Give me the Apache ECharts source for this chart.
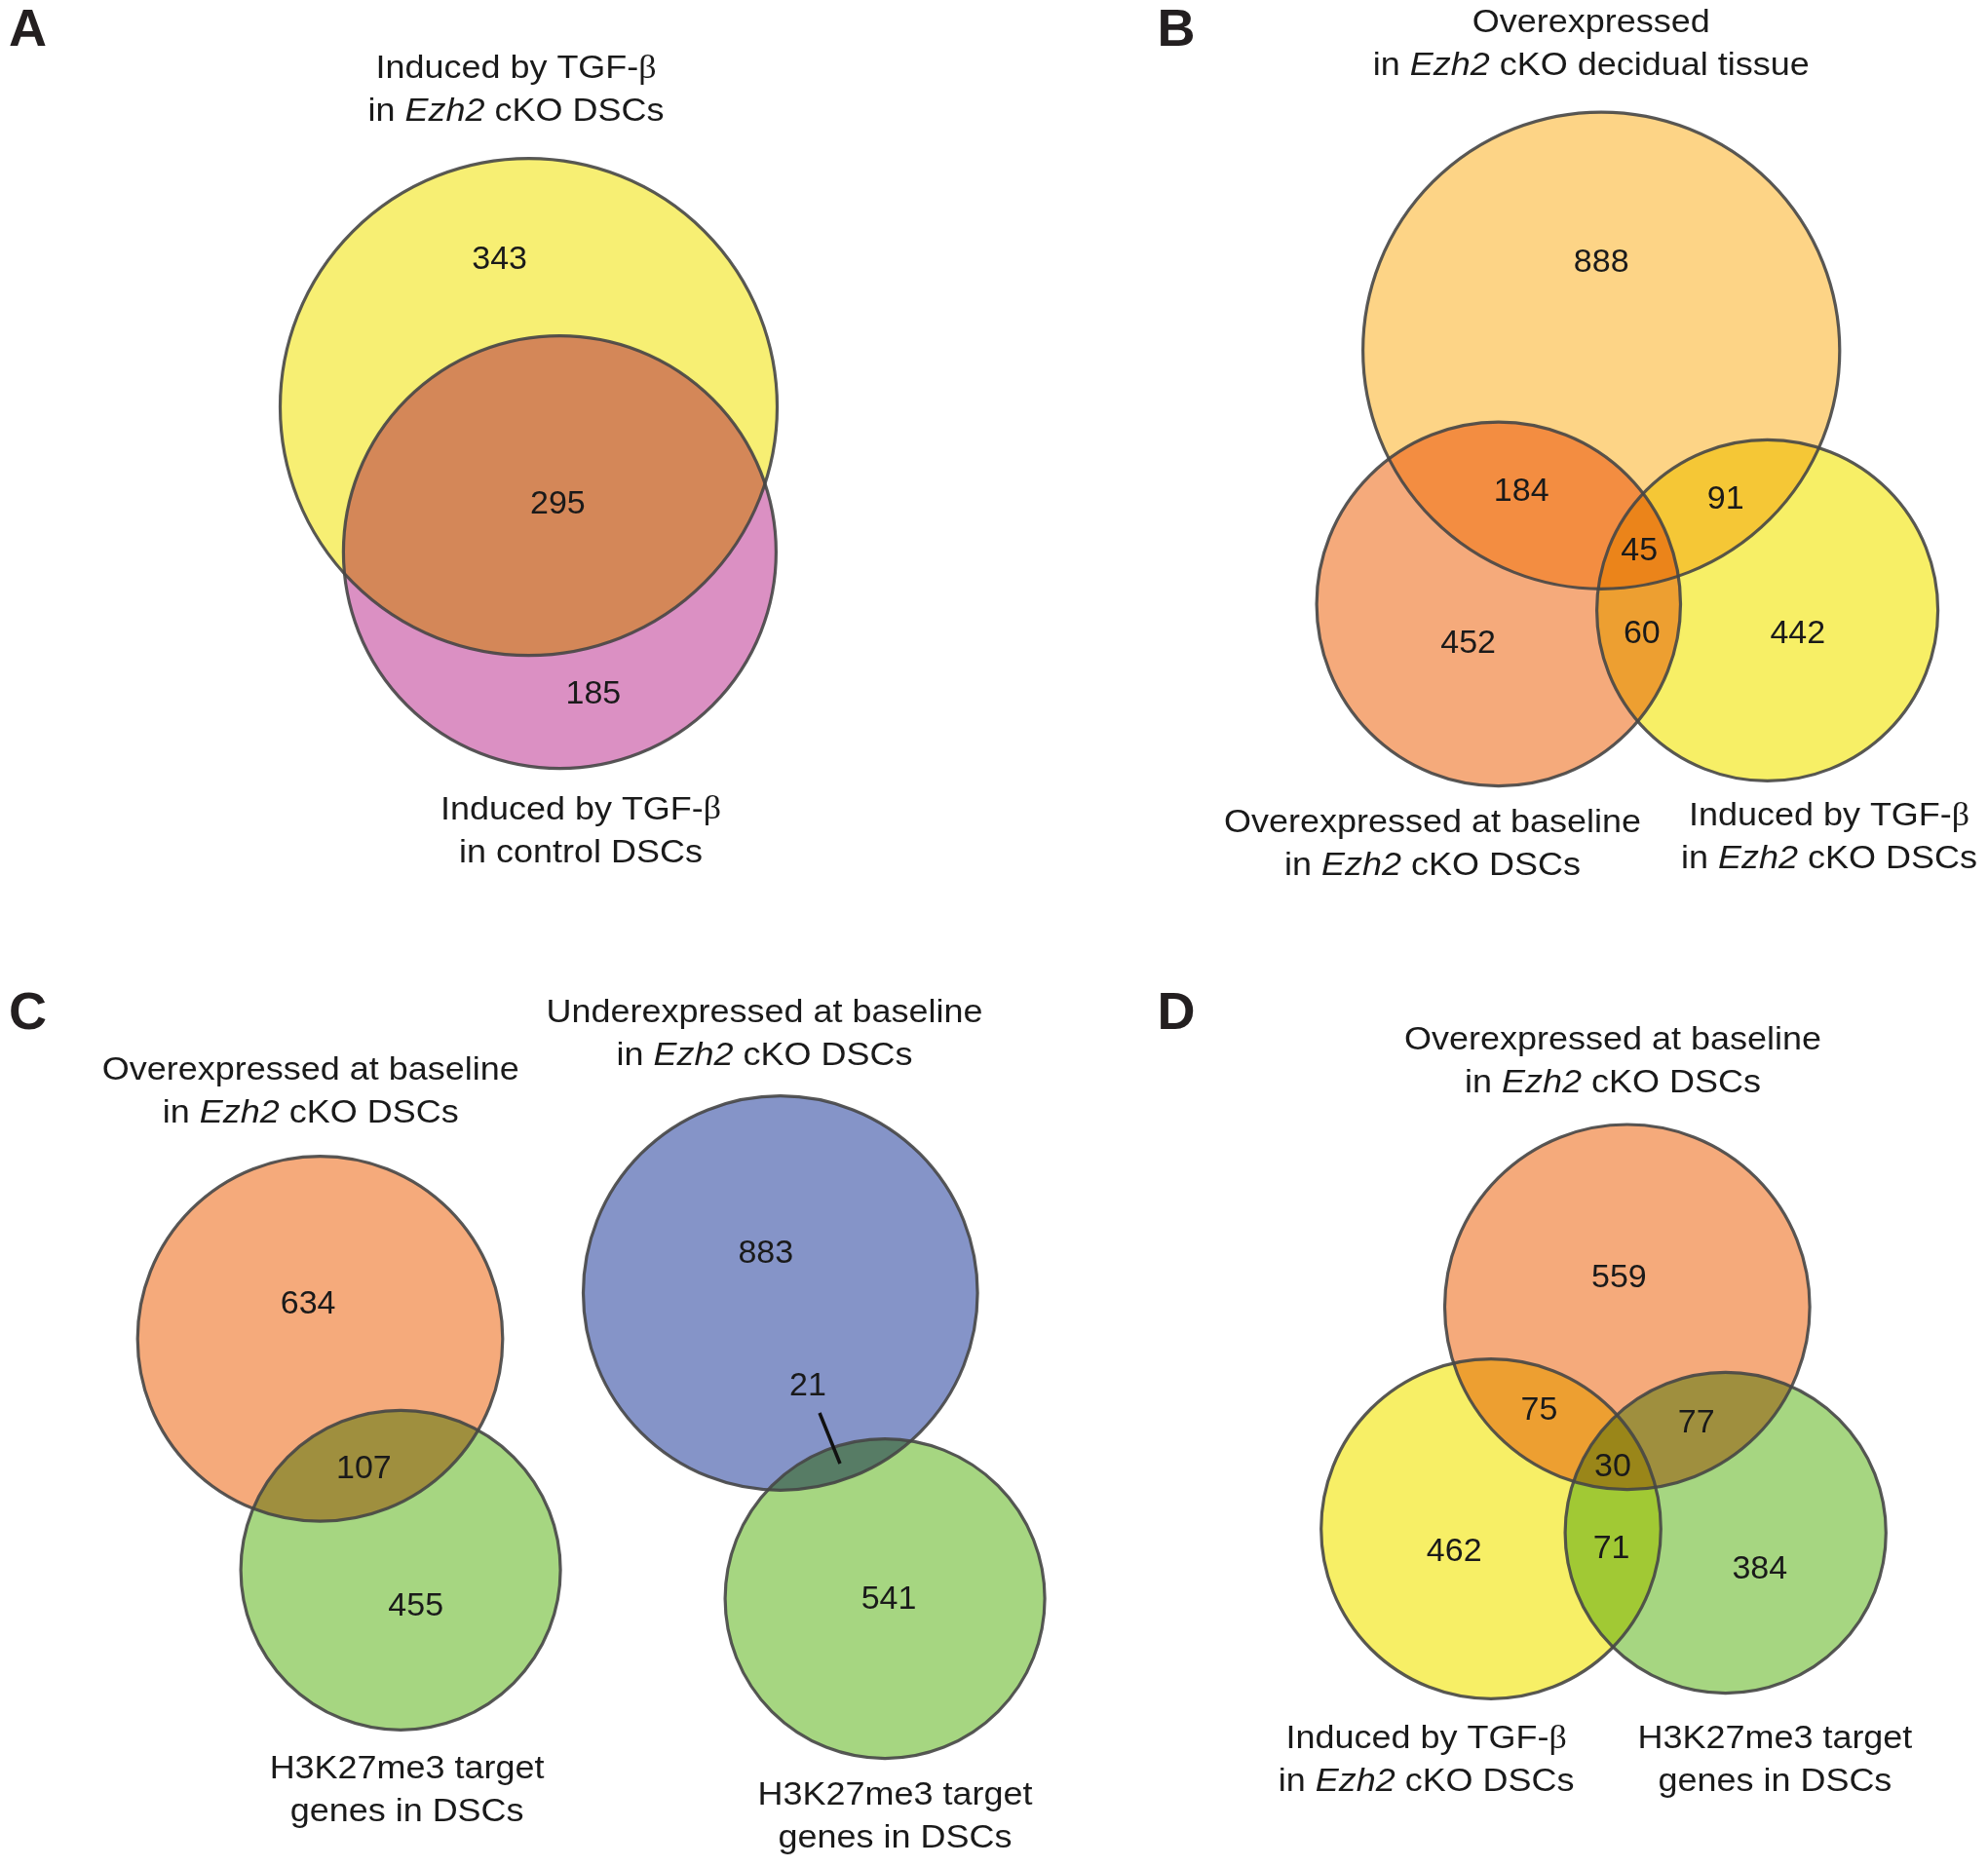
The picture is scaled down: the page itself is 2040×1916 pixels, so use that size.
<!DOCTYPE html>
<html>
<head>
<meta charset="utf-8">
<script src="https://cdn.jsdelivr.net/npm/echarts@6/dist/echarts.min.js"></script>
<style>
html,body{margin:0;padding:0;background:#ffffff;}
#chart{width:2040px;height:1916px;}
</style>
</head>
<body>
<div id="chart"></div>
<script>
// ================= DATA =================
const panelLetters = ['A', 'B', 'C', 'D'];

// Panel A: [TGF-β cKO only, both, TGF-β control only]
const countsA = [343, 295, 185];
// Panel B: [decidual only, decidual∩baseline, decidual∩TGF, all three, baseline only, baseline∩TGF, TGF only]
const countsB = [888, 184, 91, 45, 452, 60, 442];
// Panel C left: [overexpressed only, overlap, H3K27me3 only]
const countsC1 = [634, 107, 455];
// Panel C right: [underexpressed only, overlap, H3K27me3 only]
const countsC2 = [883, 21, 541];
// Panel D: [baseline only, baseline∩TGF, baseline∩H3K27, all three, TGF only, TGF∩H3K27, H3K27 only]
const countsD = [559, 75, 77, 30, 462, 71, 384];

// Set names (text only)
const setNames = [
  'Induced by TGF-{b|β}\nin {i|Ezh2} cKO DSCs',            // A top
  'Induced by TGF-{b|β}\nin control DSCs',                 // A bottom
  'Overexpressed\nin {i|Ezh2} cKO decidual tissue',        // B top
  'Overexpressed at baseline\nin {i|Ezh2} cKO DSCs',       // B bottom left
  'Induced by TGF-{b|β}\nin {i|Ezh2} cKO DSCs',            // B bottom right
  'Overexpressed at baseline\nin {i|Ezh2} cKO DSCs',       // C left top
  'Underexpressed at baseline\nin {i|Ezh2} cKO DSCs',      // C right top
  'H3K27me3 target\ngenes in DSCs',                        // C left bottom
  'H3K27me3 target\ngenes in DSCs',                        // C right bottom
  'Overexpressed at baseline\nin {i|Ezh2} cKO DSCs',       // D top
  'Induced by TGF-{b|β}\nin {i|Ezh2} cKO DSCs',            // D bottom left
  'H3K27me3 target\ngenes in DSCs'                         // D bottom right
];

// Which circles overlap (indices into circleLayout); shared regions are coloured
// as the product (multiply blend) of the circles' colours.
const overlapSets = [[0, 1], [2, 3], [2, 4], [3, 4], [2, 3, 4], [5, 6], [7, 8], [9, 10], [9, 11], [10, 11], [9, 10, 11]];

// ================= LAYOUT (axis units = page pixels) =================
const colours = {
  yellow: '#F7EF73', pink: '#DB90C3', lightOrange: '#FDD486',
  salmon: '#F5AA7B', yellowB: '#F7EF66', blue: '#8594C8', green: '#A6D681'
};
// circle centre x, centre y, radius, colour key
const circleLayout = [
  [542.5, 417.6, 255, 'yellow'],
  [574.4, 566.6, 222, 'pink'],
  [1643.2, 359.7, 244.6, 'lightOrange'],
  [1537.8, 619.9, 186.7, 'salmon'],
  [1813.6, 626.4, 175, 'yellowB'],
  [328.5, 1373.9, 187.3, 'salmon'],
  [411.1, 1611.3, 164, 'green'],
  [800.8, 1327, 202.3, 'blue'],
  [908.1, 1640.6, 164, 'green'],
  [1669.8, 1341.3, 187.3, 'salmon'],
  [1530, 1569, 174.3, 'yellowB'],
  [1770.7, 1573, 164.6, 'green']
];
const countPosA = [[512.6, 266.7], [572.4, 517.8], [608.9, 713]];
const countPosB = [[1643.2, 269.3], [1561.2, 504.8], [1770.7, 512.6], [1682.2, 566], [1506.6, 660.9], [1684.8, 650.5], [1844.8, 650.5]];
const countPosC1 = [[316.1, 1338.7], [373.4, 1507.9], [426.7, 1648.4]];
const countPosC2 = [[785.8, 1286.7], [829, 1423], [912, 1641.9]];
const countPosD = [[1661.4, 1311.4], [1579.4, 1448], [1740.7, 1461], [1654.9, 1505.3], [1492.2, 1592.4], [1653.6, 1589.8], [1805.8, 1610.6]];
const setNamePos = [
  [529.5, 93], [596, 853.5],
  [1632.8, 45.5], [1470, 866.5], [1877, 860],
  [318.7, 1120.8], [784.5, 1062.3], [417.6, 1838.3], [918.5, 1865],
  [1655, 1090.2], [1463.6, 1807], [1821.4, 1807]
];
const letterPos = [[28.6, 32.5], [1207, 32.5], [28.6, 1041], [1207, 1041]];
const leaderLine = [[841, 1450], [862, 1502]]; // pointer for the "21" overlap

// ================= BUILD =================
function hexToRgb(h) { return [1, 3, 5].map(i => parseInt(h.substr(i, 2), 16)); }
function multiplyColours(list) {
  const rgb = list.map(hexToRgb).reduce((a, b) => a.map((v, i) => v * b[i] / 255));
  return 'rgb(' + rgb.map(v => Math.round(v)).join(',') + ')';
}

const countSets = [[countsA, countPosA], [countsB, countPosB], [countsC1, countPosC1], [countsC2, countPosC2], [countsD, countPosD]];
const countData = [];
countSets.forEach(([vals, pos]) => vals.forEach((v, i) => countData.push([pos[i][0], pos[i][1], v])));
const circleData = circleLayout.map(c => [c[0], c[1], c[2]]);
const overlapData = overlapSets.map((s, k) => [circleLayout[s[0]][0], circleLayout[s[0]][1], k]);
const nameData = setNamePos.map((p, i) => [p[0], p[1], i]);
const letterData = letterPos.map((p, i) => [p[0], p[1], i]);

const FONT = '"Liberation Sans", Arial, Helvetica, sans-serif';
const NAME_SIZE = 33;
const TEXT_COLOUR = '#1a1a1a';

function circleGeom(api, id) {
  const c = api.coord([circleLayout[id][0], circleLayout[id][1]]);
  const r = api.size([circleLayout[id][2], 0])[0];
  return { cx: c[0], cy: c[1], r: r };
}

const chart = echarts.init(document.getElementById('chart'), null, { renderer: 'canvas' });
chart.setOption({
  backgroundColor: '#ffffff',
  animation: false,
  grid: { left: 0, right: 0, top: 0, bottom: 0 },
  xAxis: { type: 'value', min: 0, max: 2040, show: false },
  yAxis: { type: 'value', min: 0, max: 1916, inverse: true, show: false },
  series: [
    {
      type: 'custom', name: 'fills', silent: true, z: 1,
      data: circleData,
      encode: { x: 0, y: 1 },
      renderItem: (params, api) => {
        const c = api.coord([api.value(0), api.value(1)]);
        const r = api.size([api.value(2), 0])[0];
        return {
          type: 'circle',
          shape: { cx: c[0], cy: c[1], r: r },
          style: { fill: colours[circleLayout[params.dataIndex][3]] }
        };
      }
    },
    {
      type: 'custom', name: 'overlaps', silent: true, z: 2,
      data: overlapData,
      encode: { x: 0, y: 1 },
      renderItem: (params, api) => {
        const ids = overlapSets[api.value(2)];
        const fill = multiplyColours(ids.map(id => colours[circleLayout[id][3]]));
        if (ids.length === 2) {
          return {
            type: 'circle',
            shape: circleGeom(api, ids[1]),
            style: { fill: fill },
            clipPath: { type: 'circle', shape: circleGeom(api, ids[0]) }
          };
        }
        return {
          type: 'group',
          clipPath: { type: 'circle', shape: circleGeom(api, ids[0]) },
          children: [{
            type: 'circle',
            shape: circleGeom(api, ids[2]),
            style: { fill: fill },
            clipPath: { type: 'circle', shape: circleGeom(api, ids[1]) }
          }]
        };
      }
    },
    {
      type: 'custom', name: 'outlines', silent: true, z: 3,
      data: circleData,
      encode: { x: 0, y: 1 },
      renderItem: (params, api) => {
        const c = api.coord([api.value(0), api.value(1)]);
        const r = api.size([api.value(2), 0])[0];
        return {
          type: 'circle',
          shape: { cx: c[0], cy: c[1], r: r },
          style: { fill: 'none', stroke: 'rgba(70,70,70,0.9)', lineWidth: 3.2 }
        };
      }
    },
    {
      type: 'custom', name: 'leader', silent: true, z: 4,
      data: [[leaderLine[0][0], leaderLine[0][1], leaderLine[1][0], leaderLine[1][1]]],
      encode: { x: [0, 2], y: [1, 3] },
      renderItem: (params, api) => {
        const a = api.coord([api.value(0), api.value(1)]);
        const b = api.coord([api.value(2), api.value(3)]);
        return {
          type: 'line',
          shape: { x1: a[0], y1: a[1], x2: b[0], y2: b[1] },
          style: { stroke: '#111111', lineWidth: 3.5 }
        };
      }
    },
    {
      type: 'custom', name: 'counts', silent: true, z: 5,
      data: countData,
      encode: { x: 0, y: 1 },
      renderItem: (params, api) => {
        const c = api.coord([api.value(0), api.value(1)]);
        return {
          type: 'text', x: c[0], y: c[1],
          style: {
            text: String(api.value(2)), fontSize: 34, fontFamily: FONT,
            fill: TEXT_COLOUR, align: 'center', verticalAlign: 'middle'
          }
        };
      }
    },
    {
      type: 'custom', name: 'setNames', silent: true, z: 5,
      data: nameData,
      encode: { x: 0, y: 1 },
      renderItem: (params, api) => {
        const c = api.coord([api.value(0), api.value(1)]);
        return {
          type: 'text', x: c[0], y: c[1], scaleX: 1.09, scaleY: 1,
          style: {
            text: setNames[api.value(2)], fontSize: NAME_SIZE, fontFamily: FONT,
            fill: TEXT_COLOUR, align: 'center', verticalAlign: 'middle', lineHeight: 44,
            rich: {
              i: { fontSize: NAME_SIZE, fontFamily: FONT, fontStyle: 'italic', fill: TEXT_COLOUR, lineHeight: 44 },
              b: { fontSize: NAME_SIZE, fontFamily: '"Liberation Serif", "DejaVu Serif", serif', fill: TEXT_COLOUR, lineHeight: 44 }
            }
          }
        };
      }
    },
    {
      type: 'custom', name: 'letters', silent: true, z: 5,
      data: letterData,
      encode: { x: 0, y: 1 },
      renderItem: (params, api) => {
        const c = api.coord([api.value(0), api.value(1)]);
        return {
          type: 'text', x: c[0], y: c[1],
          style: {
            text: panelLetters[api.value(2)], fontSize: 54, fontWeight: 'bold', fontFamily: FONT,
            fill: '#231f20', align: 'center', verticalAlign: 'middle'
          }
        };
      }
    }
  ]
});
</script>
</body>
</html>
